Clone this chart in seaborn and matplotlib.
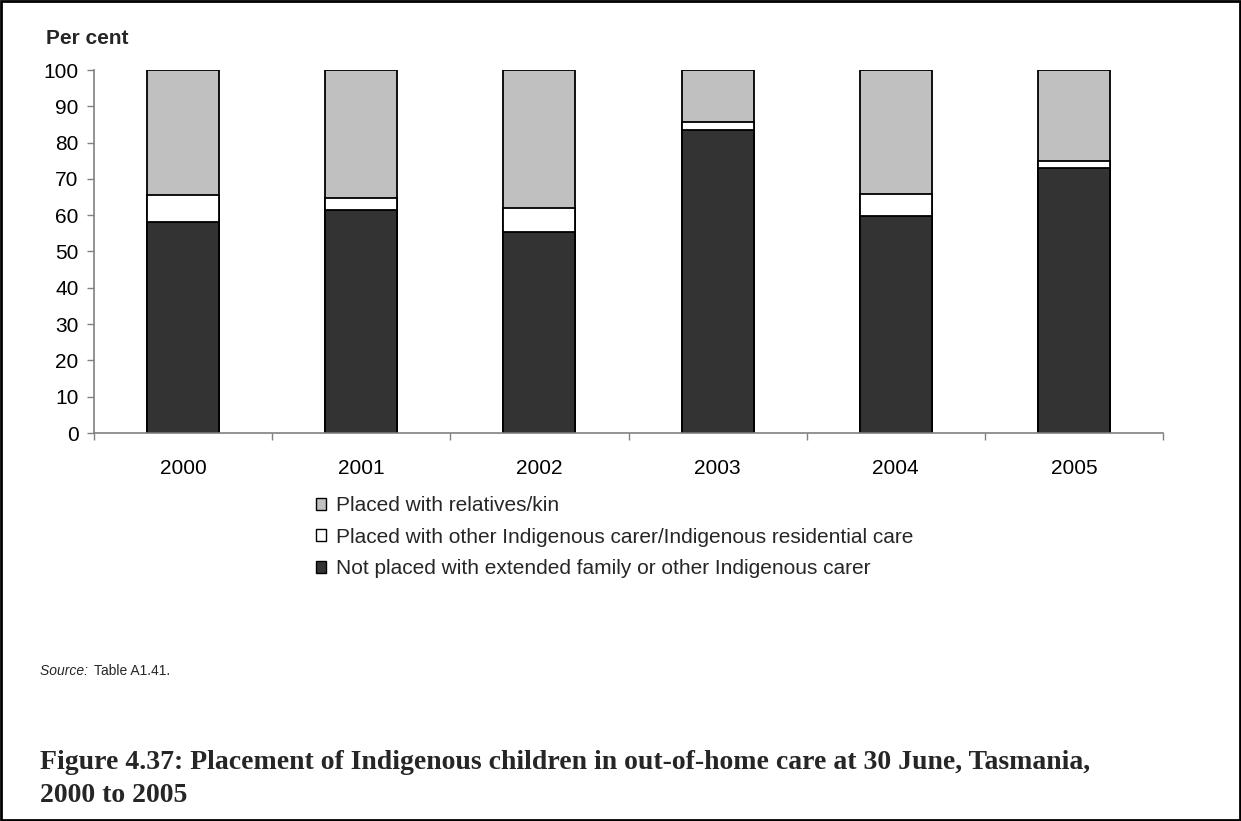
import matplotlib
matplotlib.use("Agg")
import matplotlib.pyplot as plt
import numpy as np
import pandas as pd
import seaborn as sns
from matplotlib.patches import Rectangle

years = ["2000", "2001", "2002", "2003", "2004", "2005"]
not_placed = [58.1, 61.4, 55.3, 83.5, 59.7, 73.0]
other_indigenous = [7.6, 3.4, 6.6, 2.2, 6.1, 1.8]
relatives = [34.3, 35.2, 38.1, 14.3, 34.2, 25.2]

labels = [
    "Placed with relatives/kin",
    "Placed with other Indigenous carer/Indigenous residential care",
    "Not placed with extended family or other Indigenous carer",
]
colors = ["#C0C0C0", "#FFFFFF", "#333333"]

df = pd.DataFrame(
    {
        "year": years,
        "not_placed": not_placed,
        "other": other_indigenous,
        "relatives": relatives,
    }
)
# stacked bars: draw the running totals, tallest first
df["lvl_dark"] = df["not_placed"]
df["lvl_white"] = df["lvl_dark"] + df["other"]
df["lvl_grey"] = df["lvl_white"] + df["relatives"]

sns.set_theme(style="white")
plt.rcParams["font.family"] = ["Liberation Sans", "DejaVu Sans"]

fig = plt.figure(figsize=(12.41, 8.21), dpi=100)
ax = fig.add_axes([94 / 1241, 1 - 433 / 821, (1163 - 94) / 1241, (433 - 70) / 821])

for col, color, label in zip(["lvl_grey", "lvl_white", "lvl_dark"], colors, labels):
    sns.barplot(
        data=df,
        x="year",
        y=col,
        color=color,
        saturation=1,
        width=0.405,
        edgecolor="black",
        linewidth=1.3,
        label=label,
        ax=ax,
    )

ax.set_xlim(-0.5, 5.5)
ax.set_ylim(0, 100)
ax.set_yticks(np.arange(0, 101, 10))
ax.set_xlabel("")
ax.set_ylabel("")
for side in ["top", "right"]:
    ax.spines[side].set_visible(False)
for side in ["left", "bottom"]:
    ax.spines[side].set_color("#808080")
    ax.spines[side].set_linewidth(1.2)

ax.tick_params(axis="y", left=True, length=5, width=1.0, color="#808080",
               labelsize=15, pad=6, labelcolor="black")
ax.tick_params(axis="x", bottom=False, labelsize=15, pad=13, labelcolor="black")
ax.set_xticks(np.arange(-0.5, 6.0, 1.0), minor=True)
ax.tick_params(axis="x", which="minor", bottom=True, length=5, width=1.0, color="#808080")

fig.text(46 / 1241, 1 - 39 / 821, "Per cent", fontsize=15, fontweight="bold", va="center", ha="left")

leg = ax.legend(
    loc="upper left",
    bbox_to_anchor=(316 / 1241, 1 - 496 / 821),
    bbox_transform=fig.transFigure,
    frameon=False,
    fontsize=15,
    handlelength=0.5,
    handleheight=0.5,
    handletextpad=0.45,
    labelspacing=0.6,
    borderaxespad=0,
    borderpad=0,
)
for h in leg.legend_handles:
    h.set_linewidth(1.0)

src_y = 1 - 671 / 821
src = fig.text(40 / 1241, src_y, "Source: ", fontsize=10, style="italic", va="center", ha="left")
fig.canvas.draw()
bb = src.get_window_extent(renderer=fig.canvas.get_renderer())
fig.text(bb.x1 / fig.bbox.width + 2 / 1241, src_y, "Table A1.41.", fontsize=10, va="center", ha="left")

fig.text(
    40 / 1241,
    1 - 779 / 821,
    "Figure 4.37: Placement of Indigenous children in out-of-home care at 30 June, Tasmania,\n2000 to 2005",
    fontsize=20,
    fontweight="bold",
    family=["Liberation Serif", "DejaVu Serif"],
    va="center",
    ha="left",
    linespacing=1.45,
)

fig.patches.append(
    Rectangle((0.001, 0.001), 0.998, 0.998, transform=fig.transFigure, fill=False, edgecolor="black", linewidth=2)
)

fig.savefig("out.png", dpi=100)
